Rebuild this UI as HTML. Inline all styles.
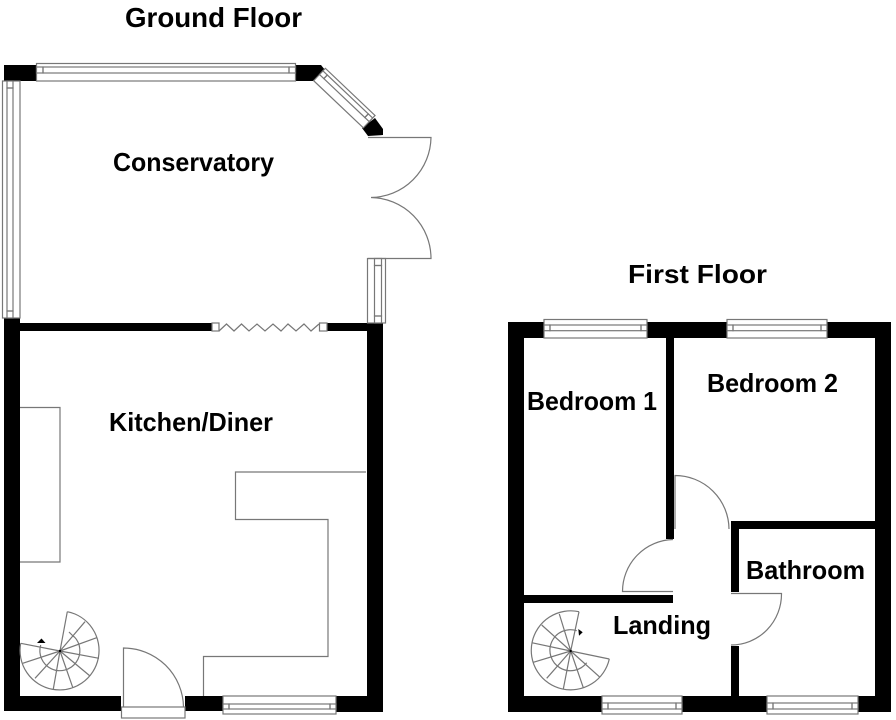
<!DOCTYPE html>
<html><head><meta charset="utf-8"><style>
html,body{margin:0;padding:0;background:#fff}
svg{display:block}
text{font-family:"Liberation Sans",Arial,sans-serif;font-weight:bold;font-size:26px;fill:#000}
.l{fill:none;stroke:#777;stroke-width:1.2}
.w{fill:#fff;stroke:#777;stroke-width:1.2}
</style></head><body>
<svg width="896" height="720" viewBox="0 0 896 720" xmlns="http://www.w3.org/2000/svg">
<rect width="896" height="720" fill="#fff"/>
<!-- Ground floor walls -->
<g fill="#000">
<rect x="4" y="65" width="32" height="16"/>
<polygon points="295,65 321,65 325,70 314,81 295,81"/>
<polygon points="375,118 383,129 383,135 368,136 362,128"/>
<rect x="4" y="318" width="16" height="393"/>
<rect x="4" y="696" width="117" height="15"/>
<rect x="185" y="696" width="38" height="15"/>
<rect x="336" y="696" width="47" height="16"/>
<rect x="367" y="323" width="16" height="389"/>
<rect x="20" y="323" width="192" height="8"/>
<rect x="327" y="323" width="40" height="8"/>
</g>
<!-- Ground windows -->
<g class="w">
<rect class="w" x="36.5" y="63.5" width="259" height="17.5"/>
<rect class="w" x="36.5" y="67" width="6.5" height="6"/>
<rect class="w" x="289" y="67" width="6.5" height="6"/>
<rect class="l" x="43" y="67" width="246" height="6"/>
<rect class="w" x="2.5" y="81" width="17.5" height="237"/>
<rect class="w" x="7" y="81" width="6" height="7"/>
<rect class="w" x="7" y="311" width="6" height="7"/>
<rect class="l" x="7" y="88" width="6" height="223"/>
<rect class="w" x="367.5" y="258.5" width="18" height="64.5"/>
<rect class="w" x="374.5" y="258.5" width="7" height="7"/>
<rect class="w" x="374.5" y="316" width="7" height="7"/>
<rect class="l" x="374.5" y="265.5" width="7" height="50.5"/>
<rect class="w" x="223" y="696" width="113" height="18"/>
<rect class="w" x="223" y="704" width="6" height="5"/>
<rect class="w" x="330" y="704" width="6" height="5"/>
<rect class="l" x="229" y="704" width="101" height="5"/>
</g>
<g transform="translate(319.5,74.5) rotate(43.5)">
<rect class="w" x="0" y="-8.5" width="68.5" height="17"/>
<rect class="w" x="0" y="-5" width="6" height="5"/>
<rect class="w" x="62.5" y="-5" width="6" height="5"/>
<rect class="l" x="6" y="-5" width="56.5" height="5"/>
</g>
<!-- French doors -->
<path class="l" d="M368,137.5H431A61,61 0 0 1 371,197.5A61,61 0 0 1 431,258.5H368"/>
<!-- Bifold -->
<rect class="w" x="212" y="323" width="7" height="8"/>
<rect class="w" x="319.500" y="323" width="7.500" height="8"/>
<polyline class="l" points="219,331 226.500,324 234,331 241.500,324 249,331 257,324 265,331 273,324 281,331 288,324 296,331 304,324 311,331 319,324"/>
<!-- Kitchen lines -->
<polyline class="l" points="366,472 235.500,472 235.500,519.500 328,519.500 328,656.500 203.500,656.500 203.500,696"/>
<polyline class="l" points="20,407.500 60,407.500 60,562 20,562"/>
<!-- Ground door -->
<rect class="w" x="121.500" y="707" width="63.500" height="11"/>
<path class="l" d="M123.500,707V648A60,60 0 0 1 183.500,707"/>
<!-- Ground spiral -->
<g class="l">
<path d="M67.300,611.700A39.500,39.500 0 1 1 20.700,643.300"/>
<path d="M60,651L67.300,611.700M60,651L85,621.700M60,651L96.700,637.700M60,651L99,658.300M60,651L90,676M60,651L72.700,687.300M60,651L53.300,689M60,651L35,678.300M60,651L22.700,663.300M60,651L20.700,643.300"/>
<path d="M74,636.500A20,20 0 1 1 40.700,645"/>
<path d="M69,632L74,637"/>
</g>
<polygon points="37,643 41.500,638.500 45.500,643" fill="#000"/>
<circle cx="60" cy="651" r="1.200" fill="#000"/>
<!-- First floor walls -->
<g fill="#000">
<rect x="508" y="322" width="36" height="16"/>
<rect x="647" y="322" width="80" height="16"/>
<rect x="827" y="322" width="63" height="16"/>
<rect x="508" y="322" width="16" height="390"/>
<rect x="875" y="322" width="16" height="390"/>
<rect x="508" y="696" width="94" height="16"/>
<rect x="682" y="696" width="85" height="16"/>
<rect x="858" y="696" width="33" height="16"/>
<rect x="666" y="338" width="8" height="201"/>
<rect x="524" y="595" width="149" height="8"/>
<rect x="731" y="521" width="144" height="8"/>
<rect x="731" y="521" width="8" height="71"/>
<rect x="731" y="646" width="8" height="50"/>
</g>
<!-- First windows -->
<rect class="w" x="544" y="319.500" width="103" height="18.500"/>
<rect class="w" x="544" y="325" width="6" height="5.700"/>
<rect class="w" x="641" y="325" width="6" height="5.700"/>
<rect class="l" x="550" y="325" width="91" height="5.700"/>
<rect class="w" x="727" y="319.500" width="100" height="18.500"/>
<rect class="w" x="727" y="325" width="6" height="5.700"/>
<rect class="w" x="821" y="325" width="6" height="5.700"/>
<rect class="l" x="733" y="325" width="88" height="5.700"/>
<rect class="w" x="602" y="696" width="80" height="18"/>
<rect class="w" x="602" y="703" width="6" height="6"/>
<rect class="w" x="676" y="703" width="6" height="6"/>
<rect class="l" x="608" y="703" width="68" height="6"/>
<rect class="w" x="767" y="696" width="91" height="18"/>
<rect class="w" x="767" y="703" width="6" height="6"/>
<rect class="w" x="852" y="703" width="6" height="6"/>
<rect class="l" x="773" y="703" width="79" height="6"/>
<!-- First doors -->
<path class="l" d="M675,529V475.500A54,54 0 0 1 729,529"/>
<path class="l" d="M673,591.500H622.500A52,52 0 0 1 673,539.500"/>
<path class="l" d="M731,593.500H781.500A51,51 0 0 1 731,645"/>
<!-- Landing spiral -->
<g class="l">
<path d="M579,611.700A39.500,39.500 0 1 0 609.300,659"/>
<path d="M570.700,651L579,611.700M570.700,651L559.300,614M570.700,651L541.700,625M570.700,651L531.700,642.700M570.700,651L533.300,662.300M570.700,651L546.700,678.300M570.700,651L563.300,689M570.700,651L583.300,687.700M570.700,651L600,677.300M570.700,651L609.300,659"/>
<path d="M576.700,630.700A20.500,20.500 0 1 0 586.700,662.700"/>
</g>
<polygon points="578.300,629 582.700,632.300 579,635.700" fill="#000"/>
<circle cx="570.700" cy="651" r="1.200" fill="#000"/>
<!-- Labels -->
<text x="125" y="27" textLength="177" lengthAdjust="spacingAndGlyphs" style="font-size:27.5px">Ground Floor</text>
<text x="113" y="171" textLength="161" lengthAdjust="spacingAndGlyphs">Conservatory</text>
<text x="109" y="431" textLength="164" lengthAdjust="spacingAndGlyphs">Kitchen/Diner</text>
<text x="628" y="283" textLength="139" lengthAdjust="spacingAndGlyphs">First Floor</text>
<text x="527" y="410" textLength="130" lengthAdjust="spacingAndGlyphs">Bedroom 1</text>
<text x="707" y="392" textLength="131" lengthAdjust="spacingAndGlyphs">Bedroom 2</text>
<text x="746" y="579" textLength="119" lengthAdjust="spacingAndGlyphs">Bathroom</text>
<text x="613" y="634" textLength="98" lengthAdjust="spacingAndGlyphs">Landing</text>
</svg>
</body></html>
